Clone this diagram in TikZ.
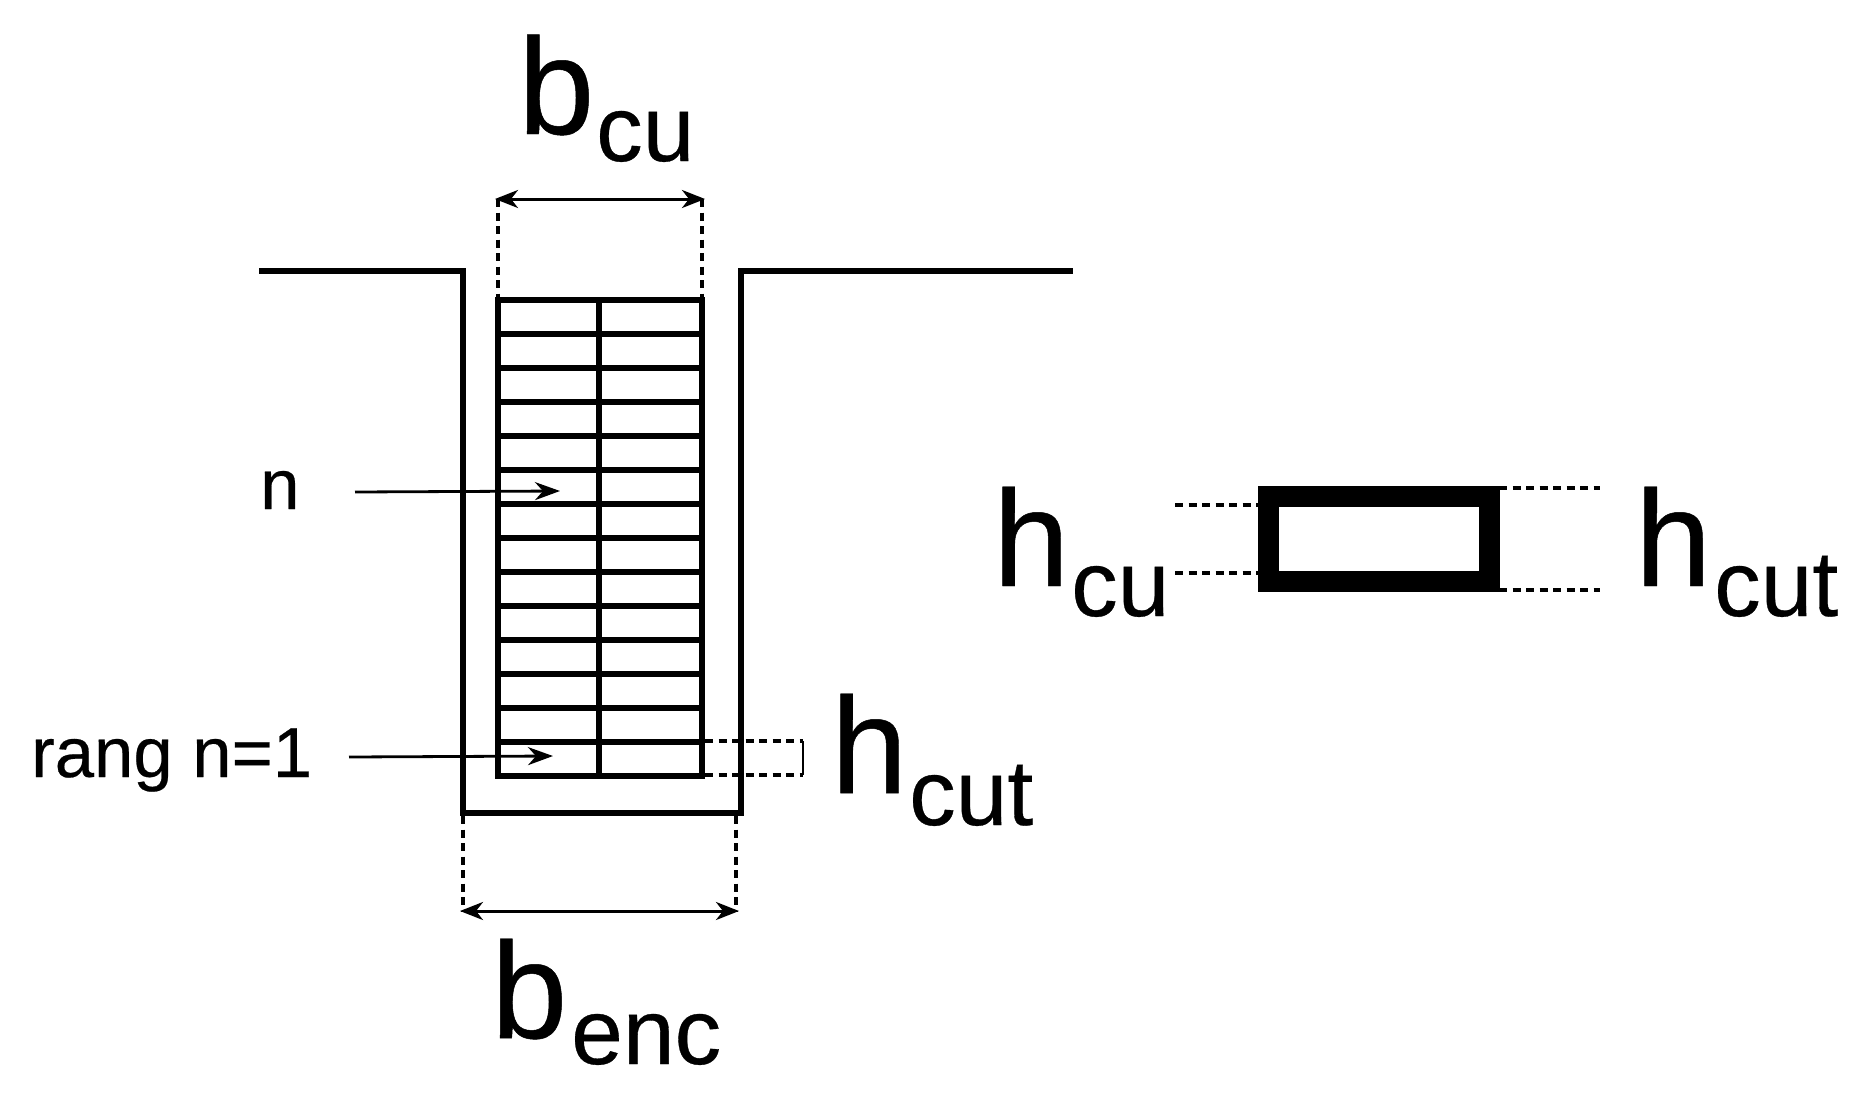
\documentclass[tikz,border=0pt]{standalone}
\usepackage{fontspec}
\setmainfont{Liberation Sans}
\newfontfamily\heavyish[FakeBold=0.35]{Liberation Sans}
\usetikzlibrary{arrows.meta}
\tikzset{
  wall/.style={line width=6pt,line cap=butt,line join=miter},
  grid/.style={line width=5.8pt},
  guide/.style={line width=3.4pt,dash pattern=on 8pt off 5.5pt},
  dim/.style={line width=3pt,shorten <=-3pt,shorten >=-3pt,{Stealth[length=23pt,width=18pt,inset=7pt]}-{Stealth[length=23pt,width=18pt,inset=7pt]}},
  pointer/.style={line width=2.8pt,-{Stealth[length=25pt,width=18pt,inset=8pt]}},
  big/.style={anchor=base west,inner sep=0pt,font=\heavyish\fontsize{137}{137}\selectfont},
  sub/.style={anchor=base west,inner sep=0pt,font=\heavyish\fontsize{93}{93}\selectfont},
  small/.style={anchor=base west,inner sep=0pt,font=\heavyish\fontsize{70.7}{70.7}\selectfont},
}
\begin{document}
\begin{tikzpicture}[x=1pt,y=-1pt]
\useasboundingbox (0,0) rectangle (1875,1101);
% trench
\coordinate (tl0) at (259,271); \coordinate (tl) at (463,271);
\coordinate (bl) at (463,813); \coordinate (br) at (741,813);
\coordinate (tr) at (741,271); \coordinate (tr0) at (1073,271);
\draw[wall] (tl0) -- (tl) -- (bl) -- (br) -- (tr) -- (tr0);
% conductor stack
\coordinate (sw) at (498,776); \coordinate (ne) at (702,300);
\draw[grid] (sw) rectangle (ne);
\draw[grid] (599,300) -- (599,776);
\foreach \i in {1,...,13}{\draw[grid] (498,{300+\i*34}) -- (702,{300+\i*34});}
% b_cu
\coordinate (bcuL) at (498,199); \coordinate (bcuR) at (702,199);
\draw[guide] (bcuL) -- (498,297);
\draw[guide] (bcuR) -- (702,297);
\draw[dim] (bcuL) -- (bcuR);
\node[big] (bcuB) at (518,134) {b};
\node[sub] (bcuS) at (596,161) {cu};
% b_enc
\coordinate (bencL) at (463,911); \coordinate (bencR) at (736,911);
\draw[guide] (463,816) -- (bencL);
\draw[guide] (736,816) -- (bencR);
\draw[dim] (bencL) -- (bencR);
\node[big] (bencB) at (491,1038) {b};
\node[sub] (bencS) at (571,1064) {enc};
% n
\node[small] (nlab) at (260,509) {n};
\coordinate (nA) at (355,492); \coordinate (nB) at (560,491);
\draw[pointer] (nA) -- (nB);
\node[small] (rang) at (31,777) {rang n=1};
\coordinate (rA) at (349,757); \coordinate (rB) at (553,756);
\draw[pointer] (rA) -- (rB);
% h_cut middle
\coordinate (hA) at (705,741); \coordinate (hB) at (803,741);
\coordinate (hC) at (803,775); \coordinate (hD) at (705,775);
\draw[guide] (hA) -- (hB);
\draw[guide] (hD) -- (hC);
\draw[line width=2.8pt] (hB) -- (hC);
\node[big] (hcutH) at (831,793) {h};
\node[sub] (hcutS) at (909,825) {cut};
% single conductor
\coordinate (ol) at (1268,496.5); \coordinate (ou) at (1489,581.5);
\draw[line width=21pt,line join=miter] (ol) rectangle (ou);
\coordinate (l1) at (1175,505); \coordinate (l2) at (1175,573);
\coordinate (r1) at (1600,488); \coordinate (r2) at (1600,590);
\draw[guide] (l1) -- (1258,505);
\draw[guide] (l2) -- (1258,573);
\draw[guide] (1499,488) -- (r1);
\draw[guide] (1499,590) -- (r2);
\node[big] (hcuH) at (993,586) {h};
\node[sub] (hcuS) at (1071,616) {cu};
\node[big] (hcutRH) at (1635,586) {h};
\node[sub] (hcutRS) at (1714,616) {cut};
\end{tikzpicture}
\end{document}
